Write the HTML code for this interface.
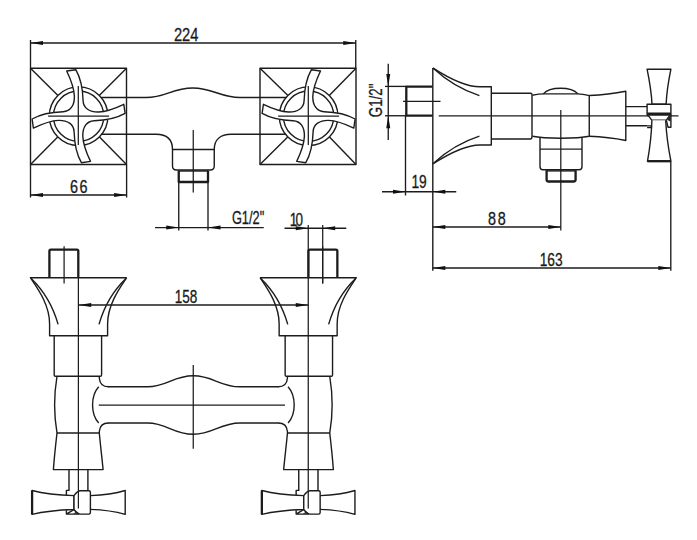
<!DOCTYPE html>
<html><head><meta charset="utf-8"><title>Faucet drawing</title>
<style>
html,body{margin:0;padding:0;background:#fff;}
svg{display:block;}
svg *{vector-effect:none;}
line,path,rect,circle{fill:none;stroke:#1c1c1c;stroke-width:1.4;stroke-linecap:butt;stroke-linejoin:round;}
.d{stroke-width:1.35;}
.c{stroke-width:1.25;}
.t{stroke-width:2.3;}
.w{fill:#fff;}
.a{fill:#111;stroke:none;}
text{font-family:"Liberation Sans",sans-serif;fill:#1a1a1a;stroke:#1a1a1a;stroke-width:0.3;}
</style></head>
<body>
<svg width="697" height="540" viewBox="0 0 697 540">
<rect x="0" y="0" width="697" height="540" style="fill:#fff;stroke:none"/>



<line class="d" x1="30.50" y1="43.00" x2="355.75" y2="43.00"/>
<polygon class="a" points="30.50,43.00 43.00,41.00 43.00,45.00"/>
<polygon class="a" points="355.75,43.00 343.25,41.00 343.25,45.00"/>
<line class="d" x1="30.50" y1="40.00" x2="30.50" y2="68.00"/>
<line class="d" x1="355.75" y1="40.00" x2="355.75" y2="68.00"/>
<text transform="translate(173.90 41.00) scale(0.817 1)" font-size="18">224</text>
<rect x="30.50" y="68.25" width="96.00" height="96.25"/>
<line x1="30.50" y1="68.25" x2="57.70" y2="95.30"/>
<line x1="126.50" y1="68.25" x2="99.50" y2="95.30"/>
<line x1="30.50" y1="164.50" x2="57.70" y2="137.10"/>
<line x1="126.50" y1="164.50" x2="99.50" y2="137.10"/>
<circle cx="78.60" cy="116.20" r="29.3"/>
<circle cx="78.60" cy="116.20" r="25.2"/>
<g transform="translate(78.60 116.20)"><path class="w" d="M-2.80 -46.50 L-11.90 -45.20 C-8.00 -37.00 -4.50 -28.00 -4.20 -20.00 C-4.00 -11.00 -8.00 -4.80 -15.50 -4.50 C-26.00 -4.20 -36.00 -3.20 -46.50 2.80 L-45.20 11.90 C-37.00 8.00 -28.00 4.50 -20.00 4.20 C-11.00 4.00 -4.80 8.00 -4.50 15.50 C-4.20 26.00 -3.20 36.00 2.80 46.50 L11.90 45.20 C8.00 37.00 4.50 28.00 4.20 20.00 C4.00 11.00 8.00 4.80 15.50 4.50 C26.00 4.20 36.00 3.20 46.50 -2.80 L45.20 -11.90 C37.00 -8.00 28.00 -4.50 20.00 -4.20 C11.00 -4.00 4.80 -8.00 4.50 -15.50 C4.20 -26.00 3.20 -36.00 -2.80 -46.50 Z"/></g>
<line class="c" x1="78.30" y1="86.00" x2="78.30" y2="145.00"/>
<line class="c" x1="48.10" y1="116.20" x2="109.10" y2="116.20"/>
<rect x="260.00" y="68.25" width="96.00" height="96.25"/>
<line x1="260.00" y1="68.25" x2="287.70" y2="95.30"/>
<line x1="356.00" y1="68.25" x2="329.50" y2="95.30"/>
<line x1="260.00" y1="164.50" x2="287.70" y2="137.10"/>
<line x1="356.00" y1="164.50" x2="329.50" y2="137.10"/>
<circle cx="308.60" cy="116.20" r="29.3"/>
<circle cx="308.60" cy="116.20" r="25.2"/>
<g transform="translate(308.60 116.20) scale(-1 1)"><path class="w" d="M-2.80 -46.50 L-11.90 -45.20 C-8.00 -37.00 -4.50 -28.00 -4.20 -20.00 C-4.00 -11.00 -8.00 -4.80 -15.50 -4.50 C-26.00 -4.20 -36.00 -3.20 -46.50 2.80 L-45.20 11.90 C-37.00 8.00 -28.00 4.50 -20.00 4.20 C-11.00 4.00 -4.80 8.00 -4.50 15.50 C-4.20 26.00 -3.20 36.00 2.80 46.50 L11.90 45.20 C8.00 37.00 4.50 28.00 4.20 20.00 C4.00 11.00 8.00 4.80 15.50 4.50 C26.00 4.20 36.00 3.20 46.50 -2.80 L45.20 -11.90 C37.00 -8.00 28.00 -4.50 20.00 -4.20 C11.00 -4.00 4.80 -8.00 4.50 -15.50 C4.20 -26.00 3.20 -36.00 -2.80 -46.50 Z"/></g>
<line class="c" x1="308.30" y1="86.00" x2="308.30" y2="145.00"/>
<line class="c" x1="278.10" y1="116.20" x2="339.10" y2="116.20"/>
<path d="M101.3 97.5 H146 C166 97.5 172 88 192.8 88 C213 88 220 97.5 240 97.5 H286"/>
<path d="M101.7 134.2 H156 C166 134.2 172.5 139 172.5 149.5 V166 Q172.5 170 176.5 170 H210.2 Q214.25 170 214.25 166 V149.5 C214.25 139 221 134.2 231 134.2 H285.6"/>
<line x1="172.50" y1="149.50" x2="214.25" y2="149.50"/>
<path class="t" d="M178.75 170.5 V182 H208 V170.5"/>
<line x1="178.75" y1="171.00" x2="208.00" y2="171.00"/>
<line class="d" x1="178.75" y1="182.00" x2="178.75" y2="230.50"/>
<line class="d" x1="208.00" y1="182.00" x2="208.00" y2="230.50"/>
<line class="d" x1="155.00" y1="227.60" x2="263.75" y2="227.60"/>
<polygon class="a" points="178.75,227.60 166.25,225.60 166.25,229.60"/>
<polygon class="a" points="208.00,227.60 220.50,225.60 220.50,229.60"/>
<text transform="translate(231.90 223.70) scale(0.712 1)" font-size="18">G1/2"</text>
<line class="c" x1="193.25" y1="130.00" x2="193.25" y2="192.50"/>
<line class="d" x1="30.50" y1="164.50" x2="30.50" y2="197.50"/>
<line class="d" x1="126.60" y1="164.50" x2="126.60" y2="197.50"/>
<line class="d" x1="30.50" y1="195.00" x2="126.60" y2="195.00"/>
<polygon class="a" points="30.50,195.00 43.00,193.00 43.00,197.00"/>
<polygon class="a" points="126.60,195.00 114.10,193.00 114.10,197.00"/>
<text transform="translate(70.00 193.20) scale(0.800 1)" font-size="18" style="letter-spacing:1.75px">66</text>
<line class="d" x1="388.25" y1="63.75" x2="388.25" y2="140.00"/>
<polygon class="a" points="388.25,86.40 386.25,73.90 390.25,73.90"/>
<polygon class="a" points="388.25,115.75 386.25,128.25 390.25,128.25"/>
<line class="d" x1="385.00" y1="86.40" x2="406.00" y2="86.40"/>
<line class="d" x1="385.00" y1="115.75" x2="406.00" y2="115.75"/>
<text transform="translate(381.50 117.20) rotate(-90) scale(0.740 1)" font-size="18">G1/2"</text>
<path class="t" d="M432.5 86.6 H406.3 V115.6 H432.5"/>
<line class="c" x1="403.00" y1="101.25" x2="440.50" y2="101.25"/>
<line class="d" x1="405.50" y1="115.75" x2="405.50" y2="195.50"/>
<line x1="432.80" y1="68.00" x2="432.80" y2="270.80"/>
<path d="M432.8 67.8 C447 77 464 86.8 480 86.8 H491.3 V145 H480 C464 145 447 154.8 432.8 164"/>
<path d="M433.5 68.5 C446 80 462 90 479.4 95.6"/>
<path d="M433.5 163.3 C446 151.8 462 141.8 479.4 136.2"/>
<line class="c" x1="438.75" y1="115.75" x2="678.50" y2="115.75"/>
<path d="M491.25 93.2 H530.5 Q532 93.2 532 94.8 V136.6 Q532 139 530.5 139 H491.25"/>
<path d="M532.4 95.3 C538 94.2 541 93.9 543.3 93.9 H578 C581 93.9 585 94.6 589.25 95.6 V136.3 C577 138.9 545 138.9 532.4 136.3"/>
<path d="M543.3 93.9 C550 86.3 571 86.3 578 93.9"/>
<path d="M589.25 95.5 C603 95 615 93.5 625.8 91.3 V140.5 C615 138.3 603 136.8 589.25 136.3"/>
<path d="M625.8 106.6 H647.2 M625.8 125.7 H647.2"/>
<g transform="translate(659 115.5)"><path d="M-11.9 -46.3 H11.9 C9.8 -36 7.6 -22 7.1 -11.2 H-7 C-7.5 -22 -9.8 -36 -11.9 -46.3 Z" class="w"/>
<path d="M-11.9 -11.2 H11.9 V-1 Q11.9 0.3 10.4 0.3 H-10.4 Q-11.9 0.3 -11.9 -1 Z" class="w"/>
<path d="M-11.9 -2.2 H11.9 M-11.9 -0.8 H11.9"/>
<path d="M-10.4 0.3 L-7.3 4.7 H7.3 L10.4 0.3" class="w"/>
<path d="M-7.1 4.7 C-7.5 18 -9.6 35 -11.5 45.7 H11.9 C9.8 35 7.3 18 6.7 4.7" class="w"/>
<path d="M-11.5 45.7 H11.9" class="t"/>
<path d="M-11.9 10.4 H-7.6 V12.1 H-11.9" />
<path d="M11.9 -1 V11.7 H9 L7.5 5.4"/>
<path d="M10.2 1.2 L11.6 1.2 L11.6 6 L8.2 4.6 Z" style="fill:#222;stroke:none"/></g>
<path d="M540 137.5 V166.8 Q540 169.8 543 169.8 H579 Q582 169.8 582 166.8 V137.5"/>
<line x1="540.00" y1="149.10" x2="582.00" y2="149.10"/>
<path class="t" d="M546.6 170.3 V179.5 Q546.6 181.5 548.6 181.5 H573.6 Q575.6 181.5 575.6 179.5 V170.3"/>
<line x1="546.60" y1="170.90" x2="575.60" y2="170.90"/>
<line class="c" x1="560.80" y1="110.00" x2="560.80" y2="230.50"/>
<line class="d" x1="382.00" y1="191.75" x2="456.25" y2="191.75"/>
<polygon class="a" points="405.50,191.75 393.00,189.75 393.00,193.75"/>
<polygon class="a" points="432.80,191.75 445.30,189.75 445.30,193.75"/>
<text transform="translate(411.40 188.40) scale(0.765 1)" font-size="18">19</text>
<line class="d" x1="432.80" y1="227.00" x2="560.80" y2="227.00"/>
<polygon class="a" points="432.80,227.00 445.30,225.00 445.30,229.00"/>
<polygon class="a" points="560.80,227.00 548.30,225.00 548.30,229.00"/>
<text transform="translate(488.00 224.70) scale(0.800 1)" font-size="18" style="letter-spacing:2.25px">88</text>
<line class="d" x1="432.80" y1="268.00" x2="670.80" y2="268.00"/>
<polygon class="a" points="432.80,268.00 445.30,266.00 445.30,270.00"/>
<polygon class="a" points="670.80,268.00 658.30,266.00 658.30,270.00"/>
<line class="d" x1="670.80" y1="161.50" x2="670.80" y2="270.80"/>
<text transform="translate(539.70 265.60) scale(0.766 1)" font-size="18">163</text>
<path class="t" d="M49.40 277.5 V251 Q49.40 249.6 50.90 249.6 H76.90 Q78.30 249.6 78.30 251 V277.5"/><line class="c" x1="64.10" y1="246.25" x2="64.10" y2="283.50"/><path d="M126.70 277.7 H30.40 C38.00 289 49.60 305 49.60 324 V335.8 H107.60 V324 C107.60 305 119.10 289 126.70 277.7"/><path d="M30.90 278.3 C40.00 287 52.00 303 58.10 324.4"/><path d="M126.20 278.3 C117.10 287 105.10 303 99.00 324.4"/><path d="M54.20 335.75 V375 Q54.20 376.25 55.50 376.25 H100.30 Q101.60 376.25 101.60 375 V335.75"/><path d="M57.00 376.25 C53.90 395 53.90 415 57.00 433"/><path d="M99.30 376.25 V378 Q100.00 386.8 108.50 386.8"/><path d="M99.30 433 V431.5 Q100.00 423 108.50 423"/><path d="M98.70 386.8 C90.50 396 90.50 414 98.70 423"/><line x1="57.00" y1="433.00" x2="99.30" y2="433.00"/><path d="M57.00 433 C55.50 446 54.20 458 53.40 469.6 H103.10 C102.00 458 100.50 446 99.30 433"/>
<path class="t" d="M337.35 277.5 V251 Q337.35 249.6 335.85 249.6 H309.85 Q308.45 249.6 308.45 251 V277.5"/><line class="c" x1="322.65" y1="246.25" x2="322.65" y2="283.50"/><path d="M260.05 277.7 H356.35 C348.75 289 337.15 305 337.15 324 V335.8 H279.15 V324 C279.15 305 267.65 289 260.05 277.7"/><path d="M355.85 278.3 C346.75 287 334.75 303 328.65 324.4"/><path d="M260.55 278.3 C269.65 287 281.65 303 287.75 324.4"/><path d="M332.55 335.75 V375 Q332.55 376.25 331.25 376.25 H286.45 Q285.15 376.25 285.15 375 V335.75"/><path d="M329.75 376.25 C332.85 395 332.85 415 329.75 433"/><path d="M287.45 376.25 V378 Q286.75 386.8 278.25 386.8"/><path d="M287.45 433 V431.5 Q286.75 423 278.25 423"/><path d="M288.05 386.8 C296.25 396 296.25 414 288.05 423"/><line x1="329.75" y1="433.00" x2="287.45" y2="433.00"/><path d="M329.75 433 C331.25 446 332.55 458 333.35 469.6 H283.65 C284.75 458 286.25 446 287.45 433"/>
<path d="M69 469.6 V491 M87.9 469.6 V491"/>
<path d="M298.75 469.6 V491 M318 469.6 V491"/>
<g transform="translate(78.5 502.5)"><path d="M-46.4 -12 C-36 -9.2 -20 -7.3 -4.5 -6.9 V7 C-20 7.5 -36 9.3 -46.4 11.9 Z" class="w"/>
<path d="M-46.4 -12 V11.9" class="t"/>
<path d="M2.4 -11.8 V11.6" style="stroke-width:1.8"/>
<path d="M11.9 -6.9 C25 -7.4 38 -9.4 46.7 -12 V11.9 C38 9.4 25 7.4 11.9 6.9" class="w"/>
<path d="M-4.5 -6.9 C-3 -9 -1 -11.5 1.5 -11.8 H10.4 Q11.9 -11.8 11.9 -10.3 V10.1 Q11.9 11.6 10.4 11.6 H1.5 C-1 11.3 -3 9 -4.5 7 Z" class="w"/>
<path d="M-12.1 -7.5 V-12.1 H-9.5"/>
<path d="M-12.1 7.7 V11.6 H0.5 M-12.1 11.6 L-4.7 7.1"/>
<path d="M-4.5 7.2 L0.8 11.3 L-5.5 11.3 L-1.8 9 Z" style="fill:#222;stroke:none"/></g>
<g transform="translate(308.25 502.5)"><path d="M-46.4 -12 C-36 -9.2 -20 -7.3 -4.5 -6.9 V7 C-20 7.5 -36 9.3 -46.4 11.9 Z" class="w"/>
<path d="M-46.4 -12 V11.9" class="t"/>
<path d="M2.4 -11.8 V11.6" style="stroke-width:1.8"/>
<path d="M11.9 -6.9 C25 -7.4 38 -9.4 46.7 -12 V11.9 C38 9.4 25 7.4 11.9 6.9" class="w"/>
<path d="M-4.5 -6.9 C-3 -9 -1 -11.5 1.5 -11.8 H10.4 Q11.9 -11.8 11.9 -10.3 V10.1 Q11.9 11.6 10.4 11.6 H1.5 C-1 11.3 -3 9 -4.5 7 Z" class="w"/>
<path d="M-12.1 -7.5 V-12.1 H-9.5"/>
<path d="M-12.1 7.7 V11.6 H0.5 M-12.1 11.6 L-4.7 7.1"/>
<path d="M-4.5 7.2 L0.8 11.3 L-5.5 11.3 L-1.8 9 Z" style="fill:#222;stroke:none"/></g>
<line class="c" x1="78.40" y1="277.50" x2="78.40" y2="508.50"/>
<line class="c" x1="308.25" y1="225.00" x2="308.25" y2="508.50"/>
<line class="c" x1="322.70" y1="225.00" x2="322.70" y2="283.50"/>
<path d="M108 386.8 H147.5 C167 386.8 173 375.8 193.25 375.8 C213 375.8 220 386.8 240 386.8 H278.8"/>
<path d="M108 423 H147.5 C167 423 173 434.2 193.25 434.2 C213 434.2 220 423 240 423 H278.8"/>
<line class="c" x1="98.75" y1="405.00" x2="285.00" y2="405.00"/>
<line class="c" x1="193.25" y1="365.00" x2="193.25" y2="448.75"/>
<line class="d" x1="78.75" y1="305.00" x2="308.25" y2="305.00"/>
<polygon class="a" points="78.75,305.00 91.25,303.00 91.25,307.00"/>
<polygon class="a" points="308.25,305.00 295.75,303.00 295.75,307.00"/>
<text transform="translate(174.70 302.90) scale(0.752 1)" font-size="18">158</text>
<line class="d" x1="284.50" y1="228.20" x2="346.25" y2="228.20"/>
<polygon class="a" points="308.25,228.20 295.75,226.20 295.75,230.20"/>
<polygon class="a" points="322.70,228.20 335.20,226.20 335.20,230.20"/>
<text transform="translate(289.80 226.20) scale(0.750 1)" font-size="18" style="letter-spacing:-2.40px">10</text>
</svg>
</body></html>
